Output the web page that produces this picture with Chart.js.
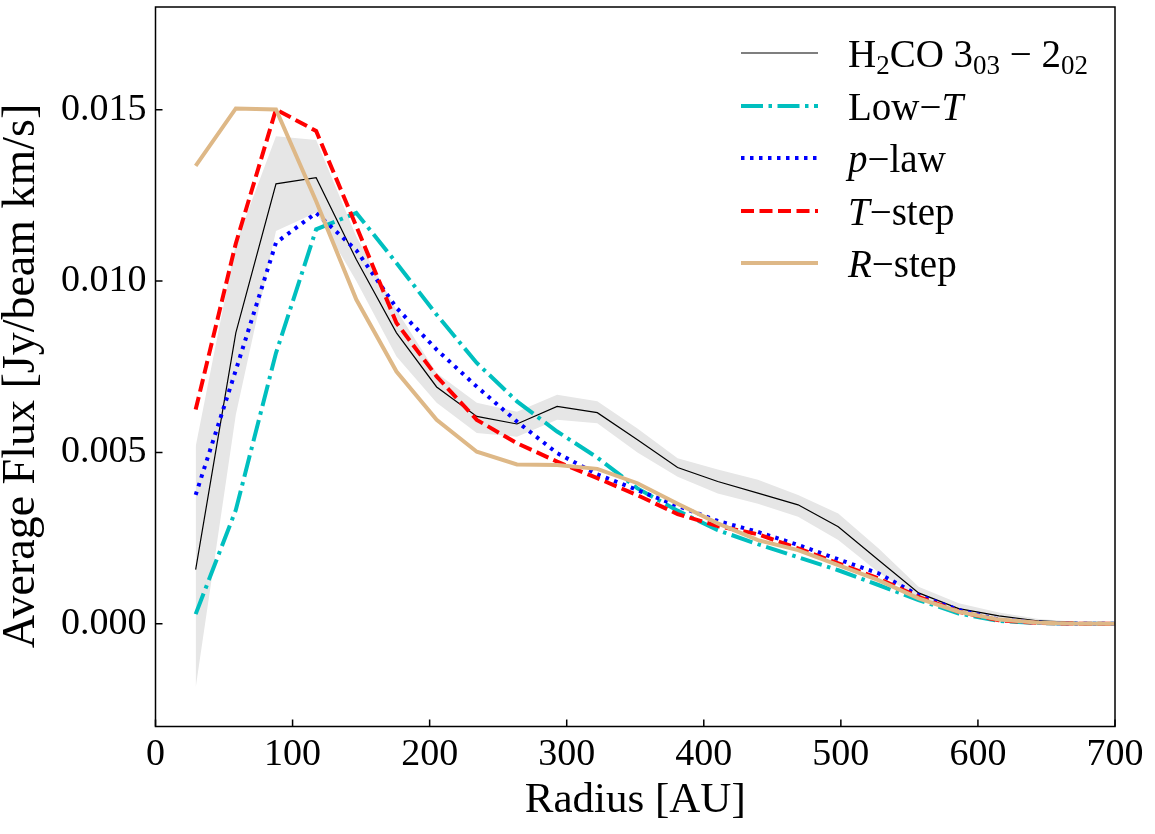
<!DOCTYPE html>
<html lang="en">

<head>
    <meta charset="UTF-8">
    <title>Average Flux vs Radius</title>
    <script src="https://cdn.jsdelivr.net/npm/chart.js"></script>
    <style>
        body { margin: 0; background: #fff; }
    </style>
</head>

<body>
    <canvas id="grafico" width="1155" height="834"></canvas>
</body>

</html>

<script>
    // radius bins [AU]
    const radius = [29.3, 58.6, 87.9, 117.2, 146.5, 175.8, 205.1, 234.4, 263.7, 293.0, 322.3, 351.6,
        380.9, 410.2, 439.5, 468.8, 498.1, 527.4, 556.7, 586.0, 615.3, 644.6, 673.9, 703.2];

    // observed H2CO 3(03)-2(02) and its uncertainty band
    const h2co = [0.00158, 0.00849, 0.01284, 0.01302, 0.01063, 0.00849, 0.00691, 0.00605, 0.00583, 0.00634, 0.00616, 0.00537,
        0.00456, 0.00415, 0.00381, 0.00347, 0.00283, 0.00186, 0.00090, 0.00044, 0.00023, 0.00008, 0.00003, 0.0];
    const h2coUpper = [0.00517, 0.0111, 0.01423, 0.01412, 0.0113, 0.00916, 0.00732, 0.00645, 0.00619, 0.00668, 0.00649, 0.0057,
        0.00483, 0.0045, 0.0042, 0.00376, 0.00322, 0.0022, 0.00108, 0.0006, 0.00033, 0.00014, 0.00005, 0.0];
    const h2coLower = [-0.00187, 0.0061, 0.01146, 0.0120, 0.0100, 0.0078, 0.00645, 0.00557, 0.00546, 0.00595, 0.00585, 0.0050,
        0.00429, 0.0038, 0.0035, 0.00312, 0.00244, 0.0015, 0.00074, 0.0003, 0.00013, 0.00003, 0.00001, 0.0];

    // models
    const lowT = [0.00028, 0.00332, 0.0079, 0.01151, 0.01199, 0.01053, 0.00902, 0.00761, 0.00649, 0.00561, 0.00485, 0.00395,
        0.0033, 0.00273, 0.00232, 0.00194, 0.00156, 0.00113, 0.00069, 0.0003, 0.00008, 0.00002, 0.0, 0.0];
    const pLaw = [0.00376, 0.0074, 0.01112, 0.01199, 0.0109, 0.00922, 0.008, 0.00692, 0.0059, 0.00498, 0.00436, 0.0039,
        0.00344, 0.003, 0.00268, 0.0023, 0.00188, 0.00147, 0.00083, 0.0004, 0.00012, 0.00003, 0.0, 0.0];
    const tStep = [0.00625, 0.0111, 0.01501, 0.01438, 0.0116, 0.00878, 0.00722, 0.00595, 0.00527, 0.00473, 0.00425, 0.00375,
        0.0032, 0.00285, 0.00261, 0.0022, 0.00176, 0.00132, 0.00078, 0.00035, 0.0001, 0.00002, 0.0, 0.0];
    const rStep = [0.01336, 0.01504, 0.01501, 0.01233, 0.00946, 0.00736, 0.00595, 0.00502, 0.00465, 0.00463, 0.00452, 0.0041,
        0.0035, 0.00293, 0.00244, 0.00215, 0.00171, 0.00127, 0.00074, 0.00035, 0.00012, 0.00003, 0.0, 0.0];

    const xTicks = [0, 100, 200, 300, 400, 500, 600, 700];
    const yTicks = [0.000, 0.005, 0.010, 0.015];

    const fonte = "'Liberation Serif', 'DejaVu Serif', serif";

    function pontos(valores) {
        return radius.map((r, i) => ({ x: r, y: valores[i] }));
    }

    // legend entries: text pieces (sub = subscript, it = italic)
    const legenda = [
        { cor: '#000000', larg: 1.2, dash: [], partes: [['H'], ['2', 'sub'], ['CO 3'], ['03', 'sub'], [' \u2212 2'], ['02', 'sub']] },
        { cor: '#00bfbf', larg: 4, dash: [22, 5.5, 3.5, 5.5], partes: [['Low\u2212'], ['T', 'it']] },
        { cor: '#0000ff', larg: 4, dash: [3.5, 5.5], partes: [['p', 'it'], ['\u2212law']] },
        { cor: '#ff0000', larg: 4, dash: [13, 5.5], partes: [['T', 'it'], ['\u2212step']] },
        { cor: '#deb887', larg: 4, dash: [], partes: [['R', 'it'], ['\u2212step']] }
    ];

    const molduraPlugin = {
        id: 'moldura',
        afterDraw(chart) {
            const ctx = chart.ctx;
            const area = chart.chartArea;
            const sx = chart.scales.x;
            const sy = chart.scales.y;
            ctx.save();
            ctx.strokeStyle = '#000';
            ctx.lineWidth = 1.5;
            ctx.setLineDash([]);
            ctx.strokeRect(area.left, area.top, area.right - area.left, area.bottom - area.top);

            // inward ticks
            ctx.beginPath();
            xTicks.forEach(v => {
                const px = sx.getPixelForValue(v);
                ctx.moveTo(px, area.bottom);
                ctx.lineTo(px, area.bottom - 7);
            });
            yTicks.forEach(v => {
                const py = sy.getPixelForValue(v);
                ctx.moveTo(area.left, py);
                ctx.lineTo(area.left + 7, py);
            });
            ctx.stroke();

            // y axis title
            ctx.save();
            ctx.translate(22, 376);
            ctx.rotate(-Math.PI / 2);
            ctx.fillStyle = '#000';
            ctx.font = '46px ' + fonte;
            ctx.textAlign = 'center';
            ctx.textBaseline = 'middle';
            ctx.fillText('Average Flux [Jy/beam km/s]', 0, 0);
            ctx.restore();

            // legend
            const linhaY = [53, 106, 158, 211, 263];
            legenda.forEach((item, i) => {
                const y = linhaY[i];
                ctx.beginPath();
                ctx.strokeStyle = item.cor;
                ctx.lineWidth = item.larg;
                ctx.setLineDash(item.dash);
                ctx.moveTo(741, y);
                ctx.lineTo(818, y);
                ctx.stroke();

                ctx.setLineDash([]);
                ctx.fillStyle = '#000';
                ctx.textBaseline = 'alphabetic';
                ctx.textAlign = 'left';
                let x = 848;
                item.partes.forEach(p => {
                    let base = y + 14;
                    if (p[1] === 'sub') {
                        ctx.font = '27px ' + fonte;
                        base += 7;
                    } else if (p[1] === 'it') {
                        ctx.font = 'italic 39px ' + fonte;
                    } else {
                        ctx.font = '39px ' + fonte;
                    }
                    ctx.fillText(p[0], x, base);
                    x += ctx.measureText(p[0]).width;
                });
            });
            ctx.restore();
        }
    };

    const data = {
        datasets: [
            {
                label: 'R-step',
                data: pontos(rStep),
                borderColor: '#deb887',
                borderWidth: 4,
            },
            {
                label: 'T-step',
                data: pontos(tStep),
                borderColor: '#ff0000',
                borderWidth: 4,
                borderDash: [13, 5.5],
            },
            {
                label: 'p-law',
                data: pontos(pLaw),
                borderColor: '#0000ff',
                borderWidth: 4,
                borderDash: [3.5, 5.5],
            },
            {
                label: 'Low-T',
                data: pontos(lowT),
                borderColor: '#00bfbf',
                borderWidth: 4,
                borderDash: [22, 5.5, 3.5, 5.5],
            },
            {
                label: 'H2CO',
                data: pontos(h2co),
                borderColor: '#000000',
                borderWidth: 1.2,
            },
            {
                label: 'upper',
                data: pontos(h2coUpper),
                borderColor: 'rgba(0,0,0,0)',
                borderWidth: 0,
                backgroundColor: '#e6e6e6',
                fill: '+1',
            },
            {
                label: 'lower',
                data: pontos(h2coLower),
                borderColor: 'rgba(0,0,0,0)',
                borderWidth: 0,
                fill: false,
            }
        ]
    };

    function semMargem(s) {
        s.paddingTop = 0;
        s.paddingBottom = 0;
        s.paddingLeft = 0;
        s.paddingRight = 0;
    }

    const config = {
        type: 'line',
        data: data,
        options: {
            responsive: false,
            animation: false,
            devicePixelRatio: 1,
            layout: { padding: { top: 7, right: 40, left: 0, bottom: 0 } },
            elements: {
                point: { radius: 0 },
                line: { tension: 0, borderCapStyle: 'butt' }
            },
            plugins: {
                legend: { display: false },
                tooltip: { enabled: false },
                filler: { propagate: false }
            },
            scales: {
                x: {
                    type: 'linear',
                    min: 0,
                    max: 700,
                    afterFit: (s) => { s.height = 107.5; semMargem(s); },
                    afterBuildTicks: (s) => { s.ticks = xTicks.map(v => ({ value: v })); },
                    grid: { display: false, drawTicks: false },
                    border: { display: false },
                    ticks: {
                        color: '#000',
                        padding: 6,
                        maxRotation: 0,
                        font: { family: fonte, size: 38 },
                        callback: (v) => String(v)
                    },
                    title: {
                        display: true,
                        text: 'Radius [AU]',
                        color: '#000',
                        padding: { top: 0, bottom: 12 },
                        font: { family: fonte, size: 43, lineHeight: 1 }
                    }
                },
                y: {
                    min: -0.003,
                    max: 0.018,
                    afterFit: (s) => { s.width = 155.5; semMargem(s); },
                    afterBuildTicks: (s) => { s.ticks = yTicks.map(v => ({ value: v })); },
                    grid: { display: false, drawTicks: false },
                    border: { display: false },
                    ticks: {
                        color: '#000',
                        padding: 9,
                        font: { family: fonte, size: 38 },
                        callback: (v) => Number(v).toFixed(3)
                    },
                    title: { display: false }
                }
            }
        },
        plugins: [molduraPlugin]
    };

    let myChart = new Chart(
        document.getElementById('grafico'),
        config
    );
</script>
